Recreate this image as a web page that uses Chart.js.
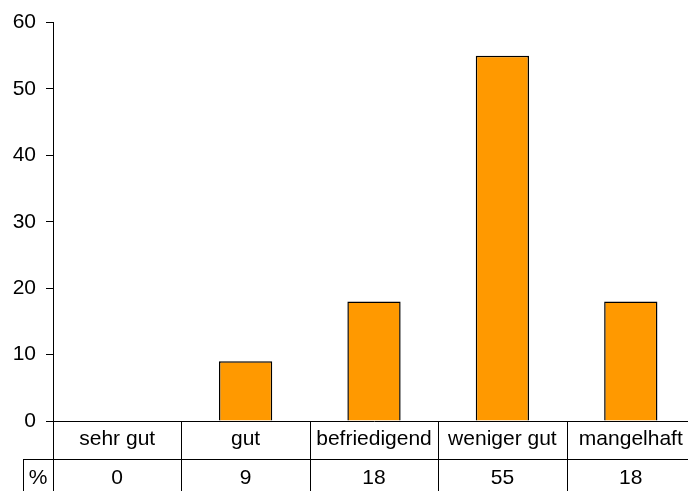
<!DOCTYPE html>
<html>
<head>
<meta charset="utf-8">
<script src="https://cdn.jsdelivr.net/npm/chart.js@4"></script>
<style>
html,body{margin:0;padding:0;background:#fff;overflow:hidden;}
#wrap{width:688px;height:491px;overflow:hidden;position:relative;}
canvas{display:block;}
</style>
</head>
<body>
<div id="wrap"><canvas id="c" width="695" height="491"></canvas></div>
<script>
const categories = ["sehr gut", "gut", "befriedigend", "weniger gut", "mangelhaft"];
const percentValues = [0, 9, 18, 55, 18];
const rowLabel = "%";
const yMin = 0, yMax = 60, yStep = 10;

const FONT = "'Liberation Sans', Arial, sans-serif";
const FSIZE = 21;

const tablePlugin = {
  id: 'dataTable',
  afterDraw(chart) {
    const ctx = chart.ctx;
    const area = chart.chartArea;
    const x = chart.scales.x;
    const H = chart.height;
    const rowSplit = 459;
    const pctLeft = 23;
    const n = categories.length;
    const cw = (area.right - area.left) / n;
    ctx.save();
    ctx.strokeStyle = '#000';
    ctx.lineWidth = 1;
    ctx.beginPath();
    for (let i = 0; i <= n; i++) {
      const xx = Math.round(area.left + i * cw) + 0.5;
      ctx.moveTo(xx, area.bottom);
      ctx.lineTo(xx, H);
    }
    ctx.moveTo(pctLeft, rowSplit + 0.5);
    ctx.lineTo(area.right, rowSplit + 0.5);
    ctx.moveTo(pctLeft + 0.5, rowSplit);
    ctx.lineTo(pctLeft + 0.5, H);
    ctx.stroke();

    ctx.fillStyle = '#000';
    ctx.font = FSIZE + 'px ' + FONT;
    ctx.textAlign = 'center';
    ctx.textBaseline = 'middle';
    const ty = 478;
    ctx.fillText(rowLabel, (pctLeft + area.left) / 2, ty);
    percentValues.forEach((v, i) => {
      ctx.fillText(String(v), x.getPixelForValue(i), ty);
    });
    ctx.restore();
  }
};

new Chart(document.getElementById('c'), {
  type: 'bar',
  data: {
    labels: categories,
    datasets: [{
      data: percentValues,
      backgroundColor: '#FF9900',
      borderColor: '#000000',
      borderWidth: 1.5,
      categoryPercentage: 1,
      barPercentage: 0.415
    }]
  },
  options: {
    responsive: false,
    animation: false,
    devicePixelRatio: 1,
    layout: { padding: { top: 21, left: 0, right: 0, bottom: 0 } },
    plugins: { legend: { display: false }, tooltip: { enabled: false } },
    scales: {
      x: {
        offset: true,
        grid: { display: false, drawTicks: false, tickLength: 0 },
        border: { display: true, color: '#000', width: 1 },
        ticks: { color: '#000', font: { family: FONT, size: FSIZE }, padding: 6, maxRotation: 0, autoSkip: false },
        afterFit(s) { s.height = 70; }
      },
      y: {
        min: yMin, max: yMax,
        grid: { drawOnChartArea: false, drawTicks: true, tickLength: 7, color: '#000' },
        border: { display: true, color: '#000', width: 1 },
        ticks: { stepSize: yStep, color: '#000', font: { family: FONT, size: FSIZE }, padding: 10 },
        afterFit(s) { s.width = 53; }
      }
    }
  },
  plugins: [tablePlugin]
});
</script>
</body>
</html>
